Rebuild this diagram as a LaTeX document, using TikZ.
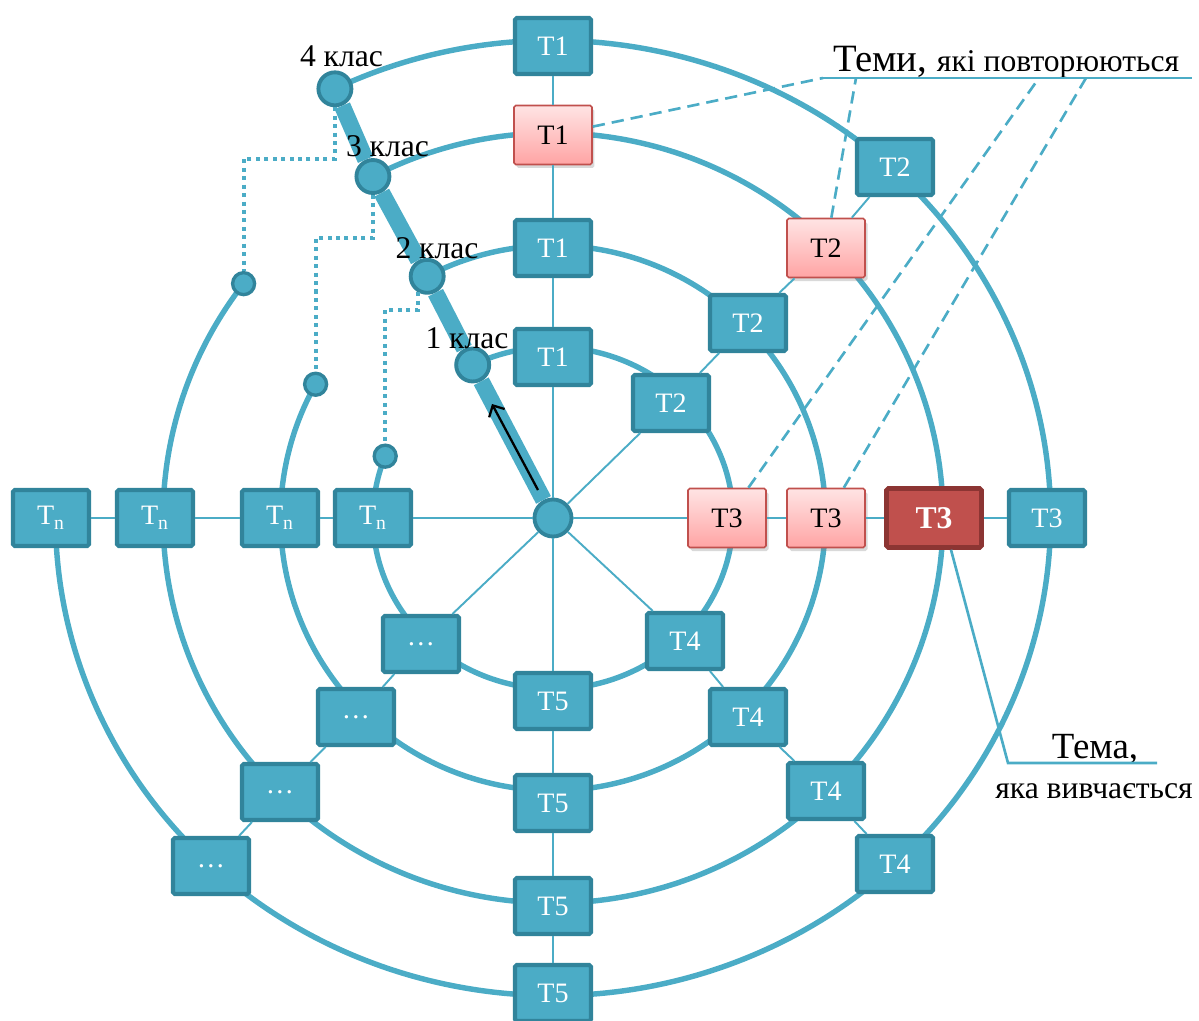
\documentclass[tikz,border=0pt]{standalone}
\usepackage{fontspec}
\setmainfont{Liberation Serif}
\usetikzlibrary{arrows.meta,shadows}

\definecolor{topicblue}{HTML}{4BACC6}
\definecolor{topicedge}{HTML}{31849B}
\definecolor{repedge}{HTML}{C0504D}
\definecolor{reptop}{HTML}{FFE4E4}
\definecolor{repbottom}{HTML}{FFA4A4}
\definecolor{nowfill}{HTML}{C0504D}
\definecolor{nowedge}{HTML}{8C3533}

\tikzset{
  topic/.style={draw=topicedge, fill=topicblue, line width=2.3pt, rounded corners=1pt,
    minimum width=1.52cm, minimum height=1.12cm, inner sep=0pt, text=white,
    font=\fontsize{16}{18}\selectfont},
  repeated/.style={topic, draw=repedge, line width=0.9pt, top color=reptop,
    bottom color=repbottom, text=black, minimum width=1.56cm, minimum height=1.18cm,
    drop shadow={shadow xshift=0.05cm, shadow yshift=-0.07cm, opacity=0.3}},
  studied/.style={topic, draw=nowedge, fill=nowfill, line width=2.6pt,
    minimum width=1.9cm, minimum height=1.18cm, font=\fontsize{18}{20}\selectfont\bfseries},
  ring/.style={topicblue, line width=3.1pt},
  spoke/.style={topicblue, line width=1.1pt},
  classdot/.style={circle, draw=topicedge, fill=topicblue, line width=2.2pt,
    minimum size=0.66cm, inner sep=0pt},
  enddot/.style={classdot, line width=1.9pt, minimum size=0.44cm},
  classlabel/.style={anchor=base, font=\fontsize{18}{20}\selectfont},
  stairs/.style={topicblue, line width=2.3pt, dash pattern=on 2.3pt off 2.5pt},
  callout/.style={topicblue, line width=1.5pt},
  pointer/.style={callout, dash pattern=on 7pt off 4pt},
}

\begin{document}
\begin{tikzpicture}
\useasboundingbox (-11.06,-10.04) rectangle (12.92,10.36);

% where every year's ring starts and ends
\path (116.5:3.6 and 3.42) coordinate (s1) (-201.2:3.6 and 3.42) coordinate (f1)
      (117.5:5.45 and 5.45) coordinate (s2) (-209.4:5.45 and 5.45) coordinate (f2)
      (117.5:7.8 and 7.7) coordinate (s3) (-217.5:7.8 and 7.7) coordinate (f3)
      (116:9.95 and 9.55) coordinate (s4);

\draw[ring] (s1) arc[start angle=116.5, end angle=-201.2, x radius=3.6, y radius=3.42];
\draw[ring] (s2) arc[start angle=117.5, end angle=-209.4, radius=5.45];
\draw[ring] (s3) arc[start angle=117.5, end angle=-217.5, x radius=7.8, y radius=7.7];
\draw[ring] (s4) arc[start angle=116, end angle=-180, x radius=9.95, y radius=9.55];

\node[classdot, minimum size=0.74cm] (hub) at (0,0) {};
\node[classdot] (k1) at (s1) {};
\node[classdot] (k2) at (s2) {};
\node[classdot] (k3) at (s3) {};
\node[classdot] (k4) at (s4) {};
\node[enddot] (e1) at (f1) {};
\node[enddot] (e2) at (f2) {};
\node[enddot] (e3) at (f3) {};

% 1 клас
\node[topic] (t1r1) at (0,3.22) {T1};
\node[topic] (t2r1) at (2.36,2.30) {T2};
\node[repeated] (t3r1) at (3.48,0) {T3};
\node[topic] (t4r1) at (2.64,-2.46) {T4};
\node[topic] (t5r1) at (0,-3.66) {T5};
\node[topic] (dr1) at (-2.64,-2.52) {…};
\node[topic] (tnr1) at (-3.6,0) {T\textsubscript{n}};
% 2 клас
\node[topic] (t1r2) at (0,5.40) {T1};
\node[topic] (t2r2) at (3.90,3.90) {T2};
\node[repeated] (t3r2) at (5.46,0) {T3};
\node[topic] (t4r2) at (3.90,-3.98) {T4};
\node[topic] (t5r2) at (0,-5.70) {T5};
\node[topic] (dr2) at (-3.94,-3.98) {…};
\node[topic] (tnr2) at (-5.46,0) {T\textsubscript{n}};
% 3 клас
\node[repeated] (t1r3) at (0,7.66) {T1};
\node[repeated] (t2r3) at (5.46,5.40) {T2};
\node[studied] (t3r3) at (7.62,0) {T3};
\node[topic] (t4r3) at (5.46,-5.46) {T4};
\node[topic] (t5r3) at (0,-7.76) {T5};
\node[topic] (dr3) at (-5.46,-5.48) {…};
\node[topic] (tnr3) at (-7.96,0) {T\textsubscript{n}};
% 4 клас
\node[topic] (t1r4) at (0,9.44) {T1};
\node[topic] (t2r4) at (6.84,7.02) {T2};
\node[topic] (t3r4) at (9.88,0) {T3};
\node[topic] (t4r4) at (6.84,-6.92) {T4};
\node[topic] (t5r4) at (0,-9.50) {T5};
\node[topic] (dr4) at (-6.84,-6.96) {…};
\node[topic] (tnr4) at (-10.04,0) {T\textsubscript{n}};

\draw[spoke] (hub) -- (t1r1) -- (t1r2) -- (t1r3) -- (t1r4);
\draw[spoke] (hub) -- (t2r1) -- (t2r2) -- (t2r3) -- (t2r4);
\draw[spoke] (hub) -- (t3r1) -- (t3r2) -- (t3r3) -- (t3r4);
\draw[spoke] (hub) -- (t4r1) -- (t4r2) -- (t4r3) -- (t4r4);
\draw[spoke] (hub) -- (t5r1) -- (t5r2) -- (t5r3) -- (t5r4);
\draw[spoke] (hub) -- (dr1) -- (dr2) -- (dr3) -- (dr4);
\draw[spoke] (hub) -- (tnr1) -- (tnr2) -- (tnr3) -- (tnr4);

\draw[topicblue, line width=9.5pt] (hub) -- (k1) -- (k2) -- (k3) -- (k4);
\draw[stairs] (k4.south) -- ++(0,-1.03) -| (e3);
\draw[stairs] (k3.south) -- ++(0,-0.86) -| (e2);
\draw[stairs] (k2.240) -- ++(0,-0.35) -| (e1);

\node[classlabel] (l1) at (-1.72,3.4) {1 клас};
\node[classlabel] (l2) at (-2.32,5.2) {2 клас};
\node[classlabel] (l3) at (-3.31,7.22) {3 клас};
\node[classlabel] (l4) at (-4.23,9.02) {4 клас};

\coordinate (aa) at (-0.3,0.56);
\coordinate (ab) at (-1.22,2.28);
\draw[-{Straight Barb[length=5pt,width=10pt]}, line width=1.3pt] (aa) -- (ab);

% repeated topics
\node[anchor=base west] (rep) at (5.48,8.92)
  {\fontsize{22}{24}\selectfont Теми, \fontsize{18}{20}\selectfont які повторюються};
\coordinate (ua) at (5.4,8.8);
\coordinate (ub) at (6.06,8.8);
\coordinate (uc) at (9.72,8.8);
\coordinate (ud) at (10.66,8.8);
\coordinate (uz) at (12.78,8.8);
\draw[callout] (ua) -- (uz);
\draw[pointer] (t1r3) -- (ua);
\draw[pointer] (t2r3) -- (ub);
\draw[pointer] (t3r1) -- (uc);
\draw[pointer] (t3r2) -- (ud);

% topic being studied
\node[anchor=base, font=\fontsize{21}{23}\selectfont] (now) at (10.84,-4.8) {Тема,};
\node[anchor=base, font=\fontsize{18}{20}\selectfont] (now2) at (10.82,-5.6) {яка вивчається};
\coordinate (tb) at (9.1,-4.9);
\coordinate (te) at (12.08,-4.9);
\draw[callout] ([xshift=0.34cm]t3r3.south) -- (tb) -- (te);
\end{tikzpicture}
\end{document}
